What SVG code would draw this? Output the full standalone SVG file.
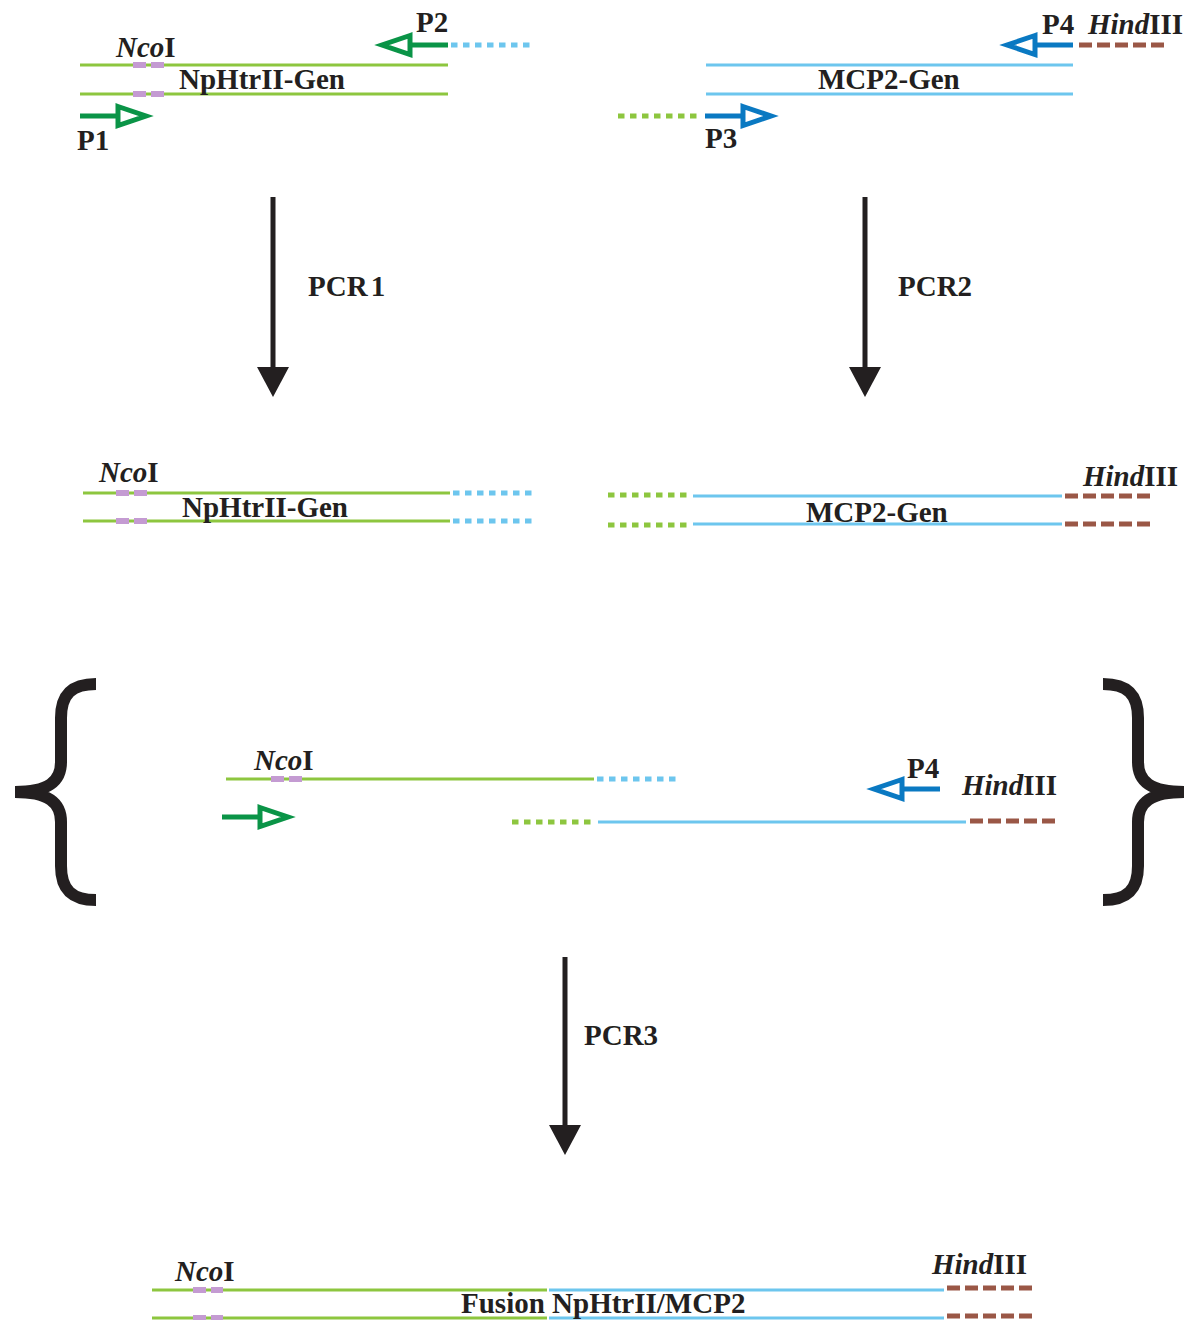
<svg xmlns="http://www.w3.org/2000/svg" xmlns:xlink="http://www.w3.org/1999/xlink" width="1192" height="1320" viewBox="0 0 1192 1320">
<style>
text{font-family:"Liberation Serif","Times New Roman",serif;font-weight:bold;font-size:29px;fill:#231f20}
.it{font-style:italic}
.g{stroke:#8dc63f;stroke-width:3;fill:none}
.b{stroke:#6dc6ee;stroke-width:3;fill:none}
.gd{stroke:#8dc63f;stroke-width:5;stroke-dasharray:6.5 5.5;fill:none}
.bd{stroke:#6dc6ee;stroke-width:5;stroke-dasharray:6.5 5.5;fill:none}
.br{stroke:#9a5746;stroke-width:5;stroke-dasharray:13 5;fill:none}
.pu{stroke:#c49bd2;stroke-width:6;stroke-dasharray:13 5;fill:none}
.pcr{stroke:#231f20;stroke-width:5;fill:none}
.brace{stroke:#231f20;stroke-width:12;fill:none;stroke-linejoin:miter}
</style>
<defs>
<g id="primer">
<line x1="0" y1="0" x2="37" y2="0" stroke-width="5"/>
<polygon points="38,-9.5 66,0 38,9.5" fill="#fff" stroke-width="5"/>
</g>
<marker id="ah" markerUnits="userSpaceOnUse" markerWidth="32" markerHeight="32" viewBox="0 0 32 32" refX="2" refY="16" orient="auto">
<polygon points="0,0 30,16 0,32" fill="#231f20"/>
</marker>
</defs>

<g id="npHtrII-template">
<line class="g" x1="80" y1="65" x2="448" y2="65"/>
<line class="g" x1="80" y1="94" x2="448" y2="94"/>
<line class="pu" x1="133" y1="65" x2="164" y2="65"/>
<line class="pu" x1="133" y1="94" x2="164" y2="94"/>
<text x="116" y="57"><tspan class="it">Nco</tspan>I</text>
<text x="179" y="89">NpHtrII-Gen</text>
</g>
<g id="primer-P1">
<use xlink:href="#primer" transform="translate(80,116)" stroke="#0a9447"/>
<text x="77" y="150">P1</text>
</g>
<g id="primer-P2">
<use xlink:href="#primer" transform="translate(448,45) scale(-1,1)" stroke="#0a9447"/>
<line class="bd" x1="451" y1="45" x2="534" y2="45"/>
<text x="416" y="32">P2</text>
</g>

<g id="mcp2-template">
<line class="b" x1="706" y1="65" x2="1073" y2="65"/>
<line class="b" x1="706" y1="94" x2="1073" y2="94"/>
<text x="818" y="89">MCP2-Gen</text>
</g>
<g id="primer-P3">
<line class="gd" x1="618" y1="116" x2="700" y2="116"/>
<use xlink:href="#primer" transform="translate(705,116)" stroke="#0a79c2"/>
<text x="705" y="148">P3</text>
</g>
<g id="primer-P4">
<use xlink:href="#primer" transform="translate(1073,45) scale(-1,1)" stroke="#0a79c2"/>
<line class="br" x1="1079" y1="45" x2="1164" y2="45"/>
<text x="1042" y="34">P4</text>
<text x="1088" y="34"><tspan class="it">Hind</tspan>III</text>
</g>

<g id="pcr1-product">
<line class="g" x1="83" y1="493" x2="450" y2="493"/>
<line class="g" x1="83" y1="521" x2="450" y2="521"/>
<line class="bd" x1="453" y1="493" x2="535" y2="493"/>
<line class="bd" x1="453" y1="521" x2="535" y2="521"/>
<line class="pu" x1="116" y1="493" x2="147" y2="493"/>
<line class="pu" x1="116" y1="521" x2="147" y2="521"/>
<text x="99" y="482"><tspan class="it">Nco</tspan>I</text>
<text x="182" y="517">NpHtrII-Gen</text>
</g>

<g id="pcr2-product">
<line class="gd" x1="608" y1="495" x2="690" y2="495"/>
<line class="gd" x1="608" y1="525" x2="690" y2="525"/>
<line class="b" x1="693" y1="496" x2="1062" y2="496"/>
<line class="b" x1="693" y1="524" x2="1062" y2="524"/>
<line class="br" x1="1065" y1="496" x2="1150" y2="496"/>
<line class="br" x1="1065" y1="524" x2="1150" y2="524"/>
<text x="1083" y="486"><tspan class="it">Hind</tspan>III</text>
<text x="806" y="522">MCP2-Gen</text>
</g>

<g id="pcr3-template">
<path class="brace" d="M96,684 C72,684 61,694 61,718 L61,762 C61,782 48,792 15,792 C48,792 61,802 61,822 L61,866 C61,890 72,900 96,900"/>
<path class="brace" transform="translate(1199,0) scale(-1,1)" d="M96,684 C72,684 61,694 61,718 L61,762 C61,782 48,792 15,792 C48,792 61,802 61,822 L61,866 C61,890 72,900 96,900"/>
<line class="g" x1="226" y1="779" x2="594" y2="779"/>
<line class="pu" x1="271" y1="779" x2="302" y2="779"/>
<line class="bd" x1="597" y1="779" x2="679" y2="779"/>
<text x="254" y="770"><tspan class="it">Nco</tspan>I</text>
<use xlink:href="#primer" transform="translate(222,817)" stroke="#0a9447"/>
<line class="gd" x1="512" y1="822" x2="594" y2="822"/>
<line class="b" x1="598" y1="822" x2="966" y2="822"/>
<line class="br" x1="970" y1="821" x2="1055" y2="821"/>
<use xlink:href="#primer" transform="translate(940,789) scale(-1,1)" stroke="#0a79c2"/>
<text x="907" y="778">P4</text>
<text x="962" y="795"><tspan class="it">Hind</tspan>III</text>
</g>

<g id="fusion-product">
<line class="g" x1="152" y1="1290" x2="547" y2="1290"/>
<line class="g" x1="152" y1="1318" x2="547" y2="1318"/>
<line class="b" x1="549" y1="1290" x2="944" y2="1290"/>
<line class="b" x1="549" y1="1318" x2="944" y2="1318"/>
<line class="br" x1="947" y1="1288" x2="1032" y2="1288"/>
<line class="br" x1="947" y1="1316" x2="1032" y2="1316"/>
<line class="pu" x1="193" y1="1290" x2="223" y2="1290"/>
<line class="pu" x1="193" y1="1318" x2="223" y2="1318"/>
<text x="175" y="1281"><tspan class="it">Nco</tspan>I</text>
<text x="932" y="1274"><tspan class="it">Hind</tspan>III</text>
<text x="461" y="1313">Fusion NpHtrII/MCP2</text>
</g>

<g id="connectors">
<line class="pcr" x1="273" y1="197" x2="273" y2="369" marker-end="url(#ah)"/>
<text x="308" y="296" word-spacing="-4">PCR 1</text>
<line class="pcr" x1="865" y1="197" x2="865" y2="369" marker-end="url(#ah)"/>
<text x="898" y="296">PCR2</text>
<line class="pcr" x1="565" y1="957" x2="565" y2="1127" marker-end="url(#ah)"/>
<text x="584" y="1045">PCR3</text>
</g>
</svg>
